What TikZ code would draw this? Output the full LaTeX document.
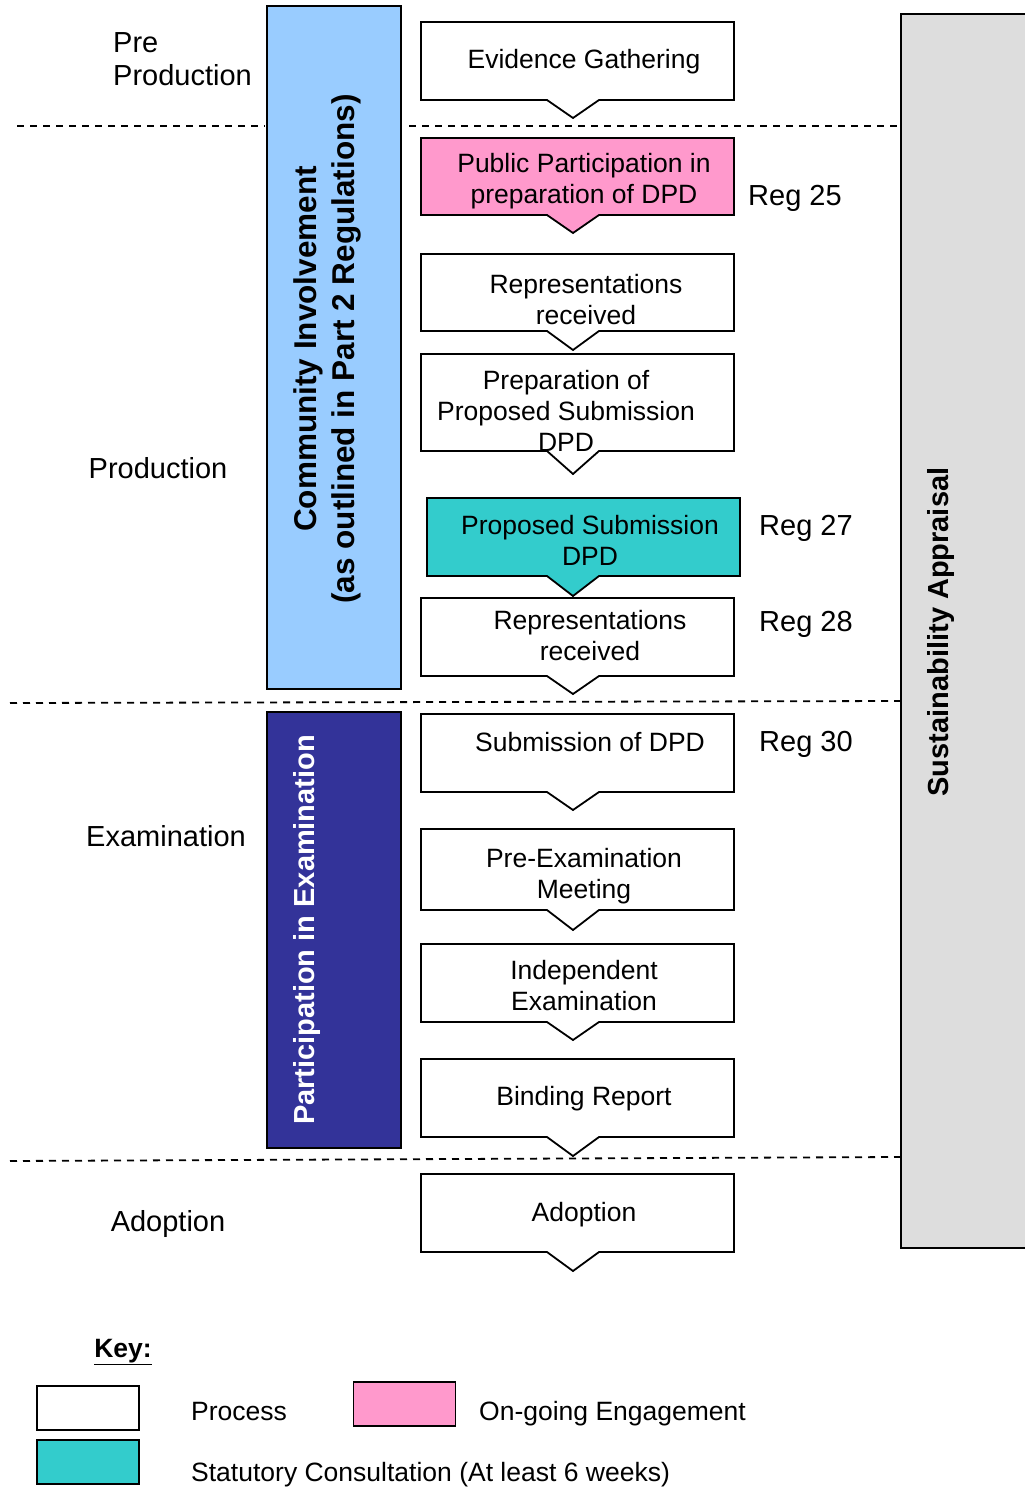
\documentclass[tikz,border=0pt]{standalone}
\usepackage{fontspec}
\setmainfont{Liberation Sans}
\usepackage{xcolor}
\usepackage{tikz}
\definecolor{pinkfill}{HTML}{FF99CC}
\definecolor{tealfill}{HTML}{33CCCC}
\definecolor{lightbar}{HTML}{99CCFF}
\definecolor{darkbar}{HTML}{333399}
\definecolor{sagray}{HTML}{DDDDDD}

\begin{document}
\begin{tikzpicture}[x=1pt,y=-1pt,
  boxtext/.style={font=\fontsize{26.5}{31}\selectfont, align=center, inner sep=0pt},
  stage/.style={font=\fontsize{29}{33}\selectfont, align=center, inner sep=0pt},
  reg/.style={font=\fontsize{29}{33}\selectfont, anchor=west, inner sep=0pt},
  keytext/.style={font=\fontsize{26.5}{31}\selectfont, anchor=base west, inner sep=0pt},
  keybox/.style={draw, line width=1.5pt, minimum width=102pt, minimum height=44pt, inner sep=0pt},
  stepshape/.style={draw=black, line width=1.8pt},
  phase/.style={line width=1.8pt, dash pattern=on 7pt off 6pt}]
  \useasboundingbox (0,0) rectangle (1025,1488);
  \fill[white] (0,0) rectangle (1025,1488);
  % Stage dividers
  \draw[phase] (17,126) -- (265,126);
  \draw[phase] (409,126) -- (900,126);
  \draw[phase] (10,703) -- (900,701);
  \draw[phase] (10,1161) -- (900,1157);
  % Stages
  \node[stage, anchor=west, align=left] (preprod) at (113,59) {Pre\\Production};
  \node[stage] (production) at (158,468) {Production};
  \node[stage] (examination) at (166,836) {Examination};
  \node[stage] (adoptstage) at (168,1224) {Adoption};
  % Side bars
  \filldraw[fill=lightbar, line width=1.8pt] (267,6) rectangle (401,689);
  \node[rotate=90, align=center, font=\bfseries\fontsize{31.5}{38}\selectfont] (community) at (327,349)
       {Community Involvement\\(as outlined in Part 2 Regulations)};
  \filldraw[fill=darkbar, line width=1.8pt] (267,712) rectangle (401,1148);
  \node[rotate=90, white, font=\bfseries\fontsize{29}{35}\selectfont] (participation) at (307,930)
       {Participation in Examination};
  \filldraw[fill=sagray, line width=2.5pt] (901,14) rectangle (1040,1248);
  \node[rotate=90, font=\bfseries\fontsize{29}{35}\selectfont] (sustain) at (941,632)
       {Sustainability Appraisal};
  % Process steps
  \foreach \l/\t/\b/\d/\col in {421/22/100/18/white, 421/138/215/18/pinkfill,
      421/254/331/19/white, 421/354/451/23/white, 427/498/576/20/tealfill,
      421/598/676/18/white, 421/714/792/18/white, 421/829/910/20/white,
      421/944/1022/18/white, 421/1059/1137/19/white, 421/1174/1252/19/white}
    \filldraw[stepshape, fill=\col] (\l,\t) -- ++(313,0) -- (\l+313,\b)
         -- (599,\b) -- (573,\b+\d) -- (547,\b) -- (\l,\b) -- cycle;
  \node[boxtext] (evidence) at (584,62) {Evidence Gathering};
  \node[boxtext] (publicpart) at (584,181) {Public Participation in\\preparation of DPD};
  \node[boxtext] (reps1) at (586,300) {Representations\\received};
  \node[boxtext] (prepsub) at (566,411) {Preparation of\\Proposed Submission\\DPD};
  \node[boxtext] (propsub) at (590,540) {Proposed Submission\\DPD};
  \node[boxtext] (reps2) at (590,636) {Representations\\received};
  \node[boxtext] (submission) at (590,742) {Submission of DPD};
  \node[boxtext] (preexam) at (584,876) {Pre-Examination\\Meeting};
  \node[boxtext] (indexam) at (584,986) {Independent\\Examination};
  \node[boxtext] (binding) at (584,1099) {Binding Report};
  \node[boxtext] (adoption) at (584,1215) {Adoption};
  % Regulations
  \node[reg] (reg25) at (748,198) {Reg 25};
  \node[reg] (reg27) at (759,528) {Reg 27};
  \node[reg] (reg28) at (759,624) {Reg 28};
  \node[reg] (reg30) at (759,744) {Reg 30};
  % Key
  \node[font=\bfseries\fontsize{26.5}{31}\selectfont, inner sep=0pt] (key) at (123,1352) {\underline{Key:}};
  \node[keybox, fill=white] (keyprocess) at (88,1408) {};
  \node[keybox, fill=tealfill] (keystatutory) at (88,1462) {};
  \node[keybox, fill=pinkfill] (keyengage) at (404.5,1404) {};
  \node[keytext] (process) at (191,1420) {Process};
  \node[keytext] (engage) at (479,1420) {On-going Engagement};
  \node[keytext] (statutory) at (191,1481) {Statutory Consultation (At least 6 weeks)};
\end{tikzpicture}
\end{document}
